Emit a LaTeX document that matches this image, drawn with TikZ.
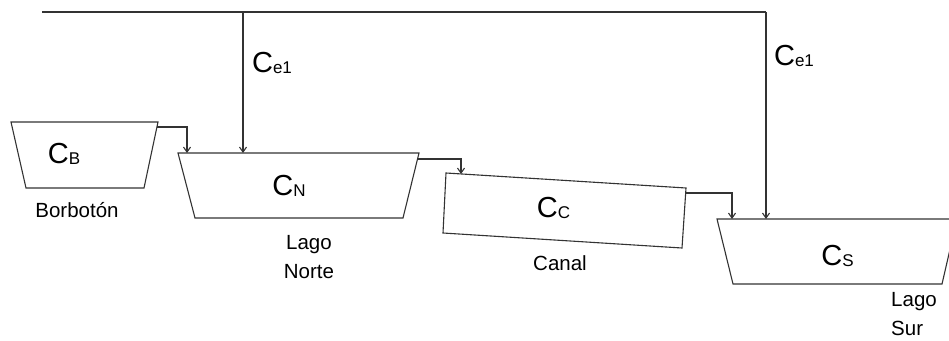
\documentclass[tikz,border=0pt]{standalone}
\usepackage{fontspec}
\setmainfont{Liberation Sans}
\usetikzlibrary{arrows.meta}
\newcommand{\clab}[2]{{\fontsize{29}{29}\selectfont C}\raisebox{-1.5pt}{\fontsize{17}{17}\selectfont #2}}
\tikzset{
  ln/.style={draw=black!80, line width=1.1pt},
  arr/.style={ln, -{Straight Barb[length=5pt,width=7pt]}},
  lbl/.style={inner sep=0pt, anchor=base},
  txt/.style={inner sep=0pt, font=\fontsize{20.5}{29}\selectfont}
}
\begin{document}
\begin{tikzpicture}[x=1pt,y=-1pt]
\useasboundingbox (0,0) rectangle (949,340);
\clip (0,0) rectangle (949,340);
% shapes
\draw[ln] (11,122) -- (158,122) -- (144,188) -- (26,188) -- cycle;
\draw[ln] (178,153) -- (419,153) -- (403,218) -- (195,218) -- cycle;
\draw[ln] (446,173) -- (686,188) -- (682,248) -- (443,233) -- cycle;
\draw[ln] (717,219) -- (957,219) -- (942,284) -- (733,284) -- cycle;
% named points
\coordinate (tl) at (42,12);
\coordinate (tj) at (243,12);
\coordinate (tr) at (766,12);
\coordinate (nIn) at (243,153);
\coordinate (sIn) at (766,219);
\coordinate (bOut) at (157,127);
\coordinate (bN) at (187,153);
\coordinate (nOut) at (417,159);
\coordinate (nC) at (461,174);
\coordinate (cOut) at (686,193);
\coordinate (cS) at (732,219);
% connectors
\draw[ln] (tl) -- (tr);
\draw[arr] (tj) -- (nIn);
\draw[arr] (tr) -- (sIn);
\draw[arr] (bOut) -| (bN);
\draw[arr] (nOut) -| (nC);
\draw[arr] (cOut) -| (cS);
% labels
\node[lbl] (lb) at (64,163) {\clab{C}{B}};
\node[lbl] (ln) at (289,195) {\clab{C}{N}};
\node[lbl] (lc) at (553.5,217) {\clab{C}{C}};
\node[lbl] (ls) at (837.5,265) {\clab{C}{S}};
\node[lbl] (le1) at (272,72) {\clab{C}{e1}};
\node[lbl] (le2) at (794,65) {\clab{C}{e1}};
\node[txt, anchor=base] (tb) at (77,217) {Borbotón};
\node[txt, anchor=north, align=center] (tn) at (309,235) {Lago\\Norte};
\node[txt, anchor=base] (tc) at (560,270) {Canal};
\node[txt, anchor=north west, align=left] (ts) at (891,292) {Lago\\Sur};
\end{tikzpicture}
\end{document}
